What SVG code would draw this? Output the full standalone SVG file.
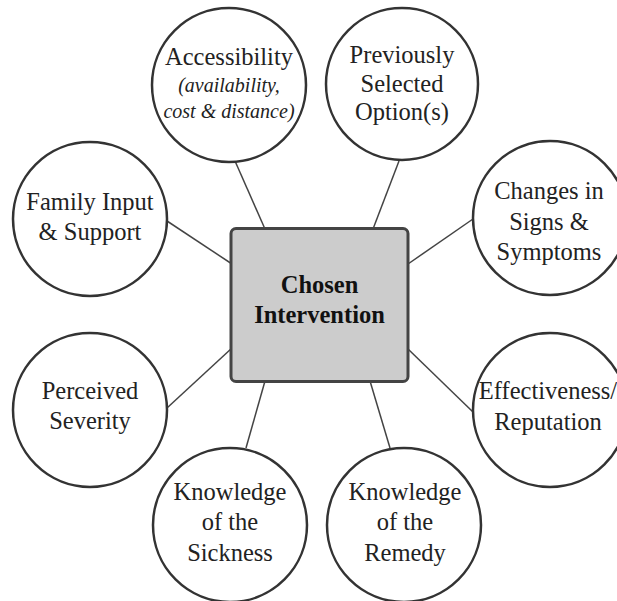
<svg xmlns="http://www.w3.org/2000/svg" width="617" height="601" viewBox="0 0 617 601">
<style>
.c{fill:#fff;stroke:#333;stroke-width:2.5}
.t{font-family:"Liberation Serif","Times New Roman",serif;font-size:24.5px;fill:#222;text-anchor:middle}
.i{font-style:italic;font-size:20px}
.b{font-weight:bold;font-size:24.5px;fill:#111}
.l{stroke:#444;stroke-width:1.5;fill:none}
</style>
<rect width="617" height="601" fill="#fff"/>
<g id="connectors">
<line class="l" x1="265" y1="229" x2="235" y2="161"/>
<line class="l" x1="373" y1="229" x2="399" y2="161"/>
<line class="l" x1="408" y1="264" x2="473" y2="219"/>
<line class="l" x1="408" y1="349" x2="473" y2="412"/>
<line class="l" x1="232" y1="264" x2="167" y2="221"/>
<line class="l" x1="232" y1="348" x2="167" y2="408"/>
<line class="l" x1="265" y1="381" x2="246" y2="448"/>
<line class="l" x1="370" y1="381" x2="390" y2="448"/>
</g>
<g id="center">
<rect x="231" y="228.5" width="177" height="153" rx="5" fill="#cccccc" stroke="#444" stroke-width="3"/>
<text class="t b" x="319.5" y="293">Chosen</text>
<text class="t b" x="319.5" y="323">Intervention</text>
</g>
<g id="accessibility">
<circle class="c" cx="229" cy="85" r="77"/>
<text class="t" x="229" y="65">Accessibility</text>
<text class="t i" x="229" y="92">(availability,</text>
<text class="t i" x="229" y="118">cost &amp; distance)</text>
</g>
<g id="previously">
<circle class="c" cx="402" cy="84" r="76"/>
<text class="t" x="402" y="63">Previously</text>
<text class="t" x="402" y="92">Selected</text>
<text class="t" x="402" y="120">Option(s)</text>
</g>
<g id="changes">
<circle class="c" cx="550" cy="218" r="77"/>
<text class="t" x="549" y="199">Changes in</text>
<text class="t" x="549" y="230">Signs &amp;</text>
<text class="t" x="549" y="260">Symptoms</text>
</g>
<g id="effectiveness">
<circle class="c" cx="550" cy="410" r="77"/>
<text class="t" x="548" y="399">Effectiveness/</text>
<text class="t" x="548" y="430">Reputation</text>
</g>
<g id="family">
<circle class="c" cx="90" cy="219" r="77"/>
<text class="t" x="90" y="210">Family Input</text>
<text class="t" x="90" y="240">&amp; Support</text>
</g>
<g id="perceived">
<circle class="c" cx="90" cy="410" r="77"/>
<text class="t" x="90" y="399">Perceived</text>
<text class="t" x="90" y="429">Severity</text>
</g>
<g id="sickness">
<circle class="c" cx="230" cy="525" r="77"/>
<text class="t" x="230" y="500">Knowledge</text>
<text class="t" x="230" y="530">of the</text>
<text class="t" x="230" y="561">Sickness</text>
</g>
<g id="remedy">
<circle class="c" cx="404" cy="525" r="77"/>
<text class="t" x="405" y="500">Knowledge</text>
<text class="t" x="405" y="530">of the</text>
<text class="t" x="405" y="561">Remedy</text>
</g>
</svg>
